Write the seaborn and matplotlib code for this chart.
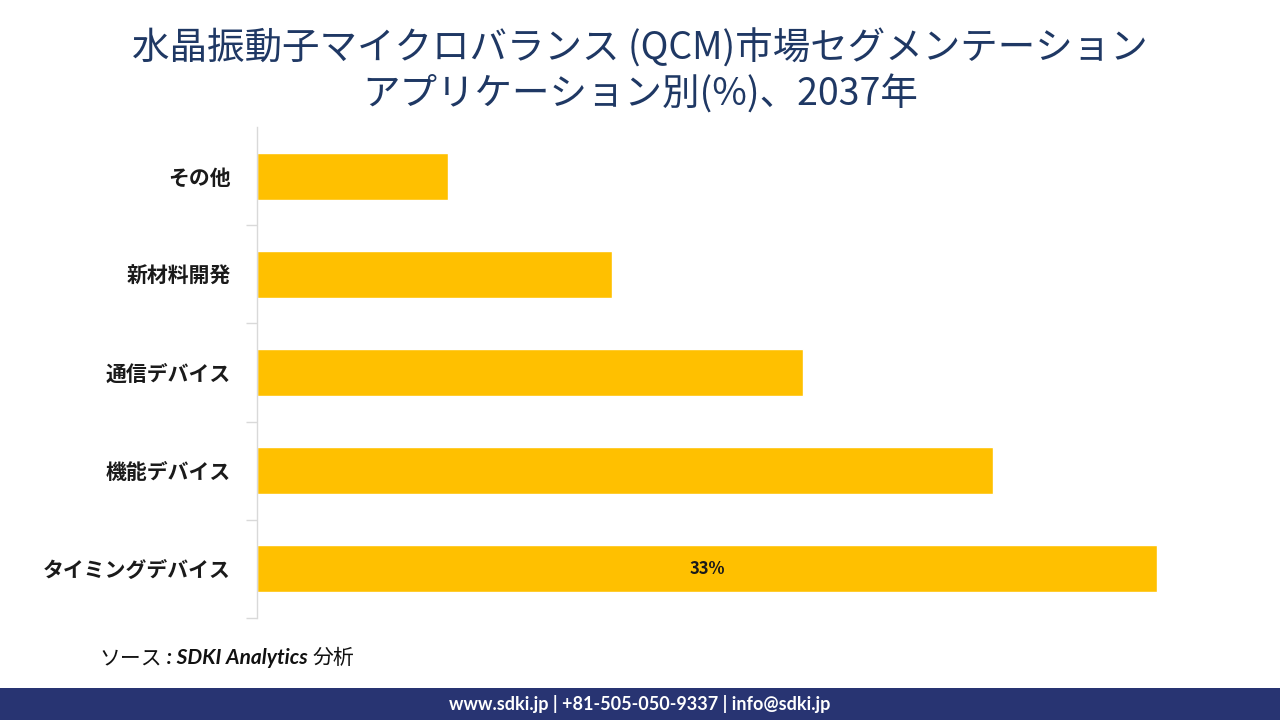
import matplotlib
matplotlib.use("Agg")
import matplotlib.pyplot as plt
from matplotlib.ticker import FixedLocator
import seaborn as sns
import pandas as pd

categories = ["その他", "新材料開発", "通信デバイス", "機能デバイス", "タイミングデバイス"]
shares = [7, 13, 20, 27, 33]
shown_labels = ["", "", "", "", "33%"]

title = "水晶振動子マイクロバランス (QCM)市場セグメンテーション\nアプリケーション別(%)、2037年"
source_parts = ["ソース", " : SDKI Analytics ", "分析"]
footer = "www.sdki.jp | +81-505-050-9337 | info@sdki.jp"

sns.set_style("white")
plt.rcParams["font.family"] = ["Noto Sans CJK JP", "DejaVu Sans"]

df = pd.DataFrame({"category": categories, "share": shares})

fig = plt.figure(figsize=(12.8, 7.2), dpi=100)
ax = fig.add_axes([0.2008, 0.1417, 0.768, 0.6819])

sns.barplot(data=df, x="share", y="category", color="#FFC000", width=0.48,
            orient="h", ax=ax, saturation=1)

ax.set_xlim(0, 36.04)
ax.set_ylim(len(categories) - 0.5, -0.5)
ax.set_xlabel("")
ax.set_ylabel("")
ax.set_xticks([])
for s in ["top", "right", "bottom"]:
    ax.spines[s].set_visible(False)
ax.spines["left"].set_color("#d9d9d9")
ax.spines["left"].set_linewidth(1)

# small separator ticks between the categories
ax.yaxis.set_minor_locator(FixedLocator([i + 0.5 for i in range(len(categories))]))
ax.tick_params(axis="y", which="major", left=False, length=0, pad=19)
ax.tick_params(axis="y", which="minor", left=True, length=8, color="#d9d9d9", width=1)
for lbl in ax.get_yticklabels():
    lbl.set_fontsize(15)
    lbl.set_fontweight("bold")
    lbl.set_color("#1a1a1a")

ax.bar_label(ax.containers[0], labels=shown_labels, label_type="center",
             fontsize=12, fontweight="bold", color="#1a1a1a")

fig.text(0.5, 0.9, title, ha="center", va="center", fontsize=27,
         color="#1F3864", linespacing=1.2)

# source line: CJK in regular weight, Latin part bold italic
t1 = fig.text(0.078, 0.086, source_parts[0], ha="left", va="center", fontsize=15,
              color="#111111")
t2 = ax.annotate(source_parts[1], xy=(1, 0.5), xycoords=t1, ha="left", va="center",
                 fontsize=15, style="italic", fontweight="bold", color="#111111",
                 family=["Lato", "DejaVu Sans"], annotation_clip=False)
ax.annotate(source_parts[2], xy=(1, 0.5), xycoords=t2, ha="left", va="center",
            fontsize=15, color="#111111", annotation_clip=False)

fig.patches.append(plt.Rectangle((0, 0), 1, 0.044, transform=fig.transFigure,
                                 facecolor="#283472", edgecolor="none", zorder=0))
fig.text(0.5, 0.022, footer, ha="center", va="center", fontsize=13,
         fontweight="bold", color="white", family=["Lato", "DejaVu Sans"])

fig.savefig("out.png", dpi=100)
